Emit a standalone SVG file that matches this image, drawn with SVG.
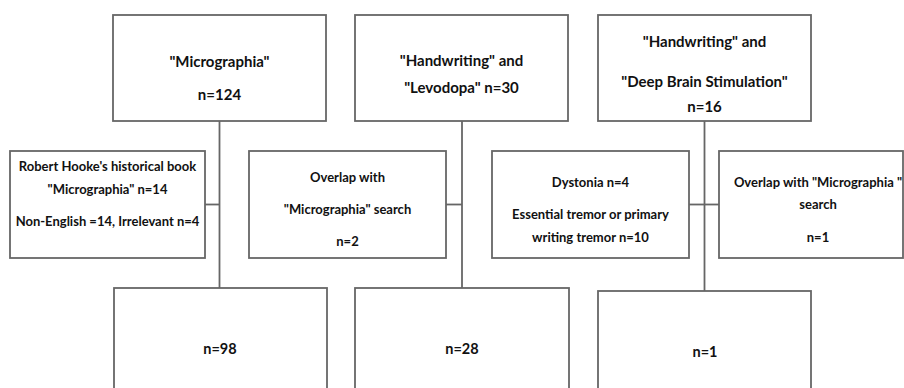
<svg xmlns="http://www.w3.org/2000/svg" width="904" height="388" viewBox="0 0 904 388">
<style>
.box{fill:#fff;stroke:#666;stroke-width:1.8}
.con{stroke:#666;stroke-width:1.8;fill:none}
text{font-family:"Lato","Liberation Sans",sans-serif;font-weight:bold;fill:#111;text-anchor:middle}
.big{font-size:15px}
.mid{font-size:13px}
.bot{font-size:14.5px}
</style>
<rect width="904" height="388" fill="#fff"/>
<g id="connectors">
<line class="con" x1="219.5" y1="121" x2="219.5" y2="288"/>
<line class="con" x1="205" y1="204.5" x2="219.5" y2="204.5"/>
<line class="con" x1="462" y1="121" x2="462" y2="288"/>
<line class="con" x1="446" y1="204.5" x2="462" y2="204.5"/>
<line class="con" x1="704.5" y1="121" x2="704.5" y2="291"/>
<line class="con" x1="689" y1="204.5" x2="719" y2="204.5"/>
</g>
<g id="top1"><rect class="box" x="113" y="15" width="213" height="106"/>
<text class="big" x="219.5" y="67">"Micrographia"</text>
<text class="big" x="219.5" y="100">n=124</text></g>
<g id="top2"><rect class="box" x="355" y="15" width="213" height="106"/>
<text class="big" x="461.5" y="66">"Handwriting" and</text>
<text class="big" x="461.5" y="93">"Levodopa" n=30</text></g>
<g id="top3"><rect class="box" x="598" y="15" width="213" height="106"/>
<text class="big" x="704.5" y="47">"Handwriting" and</text>
<text class="big" x="704.5" y="87">"Deep Brain Stimulation"</text>
<text class="big" x="704.5" y="112">n=16</text></g>
<g id="excl1"><rect class="box" x="10" y="151" width="195" height="107"/>
<text class="mid" x="107.5" y="171">Robert Hooke's historical book</text>
<text class="mid" x="107.5" y="194">"Micrographia" n=14</text>
<text class="mid" x="107.5" y="226">Non-English =14, Irrelevant n=4</text></g>
<g id="excl2"><rect class="box" x="249" y="151" width="197" height="107"/>
<text class="mid" x="347.5" y="182">Overlap with</text>
<text class="mid" x="347.5" y="214">"Micrographia" search</text>
<text class="mid" x="347.5" y="246">n=2</text></g>
<g id="excl3"><rect class="box" x="492" y="151" width="197" height="107"/>
<text class="mid" x="590.5" y="187">Dystonia n=4</text>
<text class="mid" x="590.5" y="219">Essential tremor or primary</text>
<text class="mid" x="590.5" y="242">writing tremor n=10</text></g>
<g id="excl4"><rect class="box" x="719" y="151" width="184" height="107"/>
<text class="mid" x="818" y="187">Overlap with "Micrographia "</text>
<text class="mid" x="818" y="209">search</text>
<text class="mid" x="818" y="242">n=1</text></g>
<g id="bot1"><rect class="box" x="114" y="288" width="213" height="110"/>
<text class="bot" x="220" y="354">n=98</text></g>
<g id="bot2"><rect class="box" x="355" y="288" width="214" height="110"/>
<text class="bot" x="462" y="354">n=28</text></g>
<g id="bot3"><rect class="box" x="598" y="291" width="213" height="110"/>
<text class="bot" x="705" y="357">n=1</text></g>
</svg>
